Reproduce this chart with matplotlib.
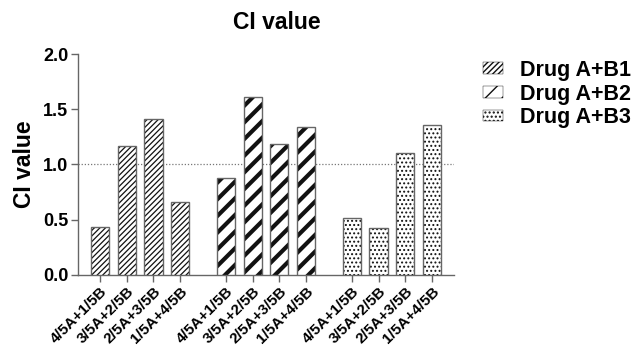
import matplotlib
matplotlib.use("Agg")
import matplotlib.pyplot as plt
from matplotlib.patches import Patch
from matplotlib.transforms import ScaledTranslation
import numpy as np

plt.rcParams['font.family'] = ['Liberation Sans', 'DejaVu Sans']

series = ["Drug A+B1", "Drug A+B2", "Drug A+B3"]
ratios = ["4/5A+1/5B", "3/5A+2/5B", "2/5A+3/5B", "1/5A+4/5B"]
b1 = [0.43, 1.17, 1.41, 0.66]
b2 = [0.88, 1.61, 1.185, 1.34]
b3 = [0.52, 0.425, 1.10, 1.357]
values = [b1, b2, b3]
hatches = ['//////', '//', '....']
hatch_lws = [0.9, 3.0, 0.9]

fig = plt.figure(figsize=(6.37, 3.48), dpi=100)
ax = fig.add_axes([0.1225, 0.2098, 0.5902, 0.635])

group_gap = 4.72
xticks = []
xlabels = []
handles = []
for g, (vals, h, hlw) in enumerate(zip(values, hatches, hatch_lws)):
    x = np.arange(len(vals)) + g * group_gap
    with plt.rc_context({'hatch.linewidth': hlw}):
        ax.bar(x, vals, width=0.68, facecolor='white', edgecolor='#111111',
               hatch=h, linewidth=0, zorder=3)
        handles.append(Patch(facecolor='white', edgecolor='#111111', hatch=h,
                             linewidth=0.3))
    ax.bar(x, vals, width=0.68, facecolor='none', edgecolor='#666666',
           linewidth=1.0, zorder=4)
    xticks.extend(x)
    xlabels.extend(ratios)

ax.axhline(1.0, color='#777777', linestyle=(0, (1, 1.5)), linewidth=0.9, zorder=2)

ax.set_xlim(-0.83, 2 * group_gap + 3 + 0.83)
ax.set_ylim(0, 2.0)
ax.set_yticks([0.0, 0.5, 1.0, 1.5, 2.0])
ax.set_yticklabels(['0.0', '0.5', '1.0', '1.5', '2.0'], fontweight='bold', fontsize=13)
ax.set_xticks(xticks)
ax.set_xticklabels(xlabels, rotation=45, ha='right', rotation_mode='anchor',
                   fontweight='bold', fontsize=11)
offset = ScaledTranslation(4 / 72, 0, fig.dpi_scale_trans)
for lbl in ax.get_xticklabels():
    lbl.set_transform(lbl.get_transform() + offset)

for s in ['top', 'right']:
    ax.spines[s].set_visible(False)
for s in ['left', 'bottom']:
    ax.spines[s].set_color('#666666')
    ax.spines[s].set_linewidth(1.0)
ax.tick_params(axis='both', direction='out', length=5, width=1.0, color='#666666', pad=2)
ax.tick_params(axis='x', pad=1.5)

ax.set_ylabel('CI value', fontsize=16.5, fontweight='bold', labelpad=5)
ax.set_title('CI value', fontsize=16.5, fontweight='bold', pad=18, x=0.53)

fig.legend(handles=handles, labels=series, loc='upper left', bbox_to_anchor=(0.745, 0.853),
           frameon=False, prop={'weight': 'bold', 'size': 15.5},
           handlelength=0.9, handleheight=0.45,
           labelspacing=0.13, handletextpad=0.8, borderaxespad=0)

fig.savefig('out.png', dpi=100)
